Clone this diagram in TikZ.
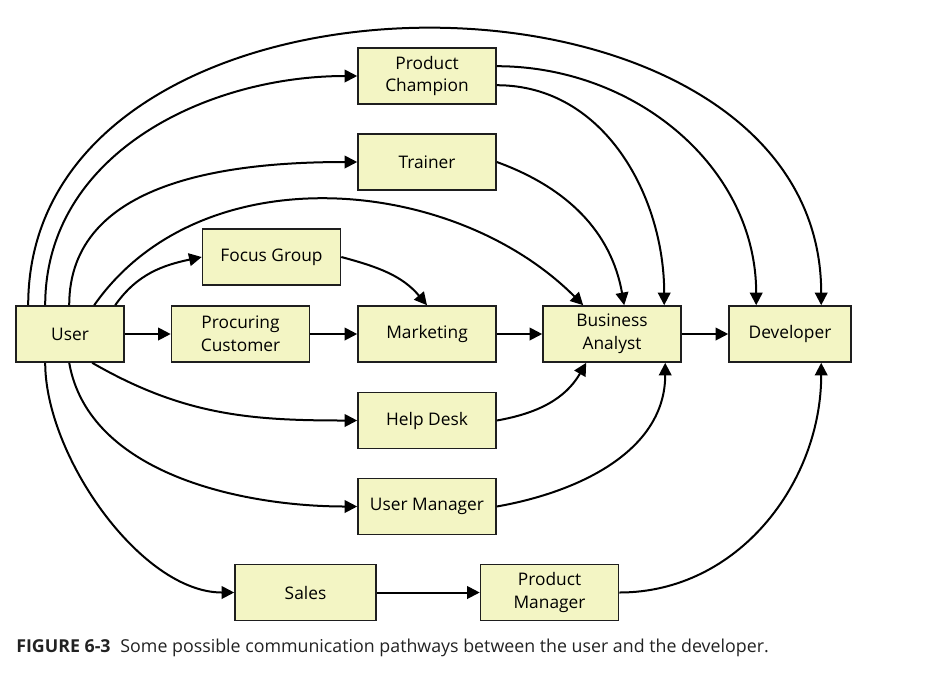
\documentclass[tikz,border=0pt]{standalone}
\usepackage{fontspec}
\setmainfont{Open Sans}
\usetikzlibrary{arrows.meta}
\usetikzlibrary{calc}

\begin{document}
\begin{tikzpicture}[x=0.75pt,y=0.75pt,yscale=-1,xscale=1,
  box/.style={draw={rgb, 255:red, 30; green, 30; blue, 30 }, line width=1.2pt, fill={rgb, 255:red, 243; green, 245; blue, 196 }, fill opacity=1, minimum width=103.5pt, minimum height=42pt, align=center, inner sep=0.75pt, font=\fontsize{13}{17}\selectfont},
  link/.style={line width=1.5pt, -{Triangle[length=9.5pt,width=9.5pt]}}]
%set diagram size 930 x 683
\useasboundingbox (0,0) rectangle (930,683);

%Shape: Rectangle [id:user] 
\draw (70,334) node [box, minimum width=81pt] (user) {User};
%Shape: Rectangle [id:proc] 
\draw (240.5,334) node [box] (proc) {Procuring\\Customer};
%Shape: Rectangle [id:mkt] 
\draw (427,334) node [box] (mkt) {Marketing};
%Shape: Rectangle [id:ba] 
\draw (612,334) node [box] (ba) {Business\\Analyst};
%Shape: Rectangle [id:dev] 
\draw (790,334) node [box, minimum width=91.5pt] (dev) {Developer};
%Shape: Rectangle [id:pc] 
\draw (427,76) node [box] (pc) {Product\\Champion};
%Shape: Rectangle [id:trn] 
\draw (427,162) node [box] (trn) {Trainer};
%Shape: Rectangle [id:fg] 
\draw (271.5,257) node [box] (fg) {Focus Group};
%Shape: Rectangle [id:hd] 
\draw (427,420.5) node [box] (hd) {Help Desk};
%Shape: Rectangle [id:um] 
\draw (427,506.5) node [box] (um) {User Manager};
%Shape: Rectangle [id:sales] 
\draw (305.5,592.5) node [box, minimum width=105.75pt] (sales) {Sales};
%Shape: Rectangle [id:pm] 
\draw (549.5,592.5) node [box] (pm) {Product\\Manager};

%Straight Lines
\draw [link] (user.east) -- (proc.west);
\draw [link] (proc.east) -- (mkt.west);
\draw [link] (mkt.east) -- (ba.west);
\draw [link] (ba.east) -- (dev.west);
\draw [link] (sales.east) -- (pm.west);

%Curve Lines above
\draw [link] ($(user.north west)+(13,0)$) to[out=-90,in=-90,looseness=1.19] ($(dev.north west)+(93,0)$);
\draw [link] ($(user.north west)+(30,0)$) to[out=-90,in=180] (pc.west);
\draw [link] ($(user.north west)+(54,0)$) to[out=-90,in=180] (trn.west);
\draw [link] ($(user.north west)+(79,0)$) to[out=-55,in=-135,looseness=0.97] ($(ba.north west)+(41,0)$);
\draw [link] ($(user.north west)+(100,0)$) to[out=-55,in=168] (fg.west);
\draw [link] (fg.east) to[out=15,in=-130] (mkt.north);
\draw [link] ($(pc.north east)+(0,19)$) to[out=0,in=-90] ($(dev.north west)+(28,0)$);
\draw [link] ($(pc.north east)+(0,38)$) to[out=0,in=-90] ($(ba.north west)+(122,0)$);
\draw [link] (trn.east) to[out=20,in=-100] ($(ba.north west)+(82,0)$);

%Curve Lines below
\draw [link] ($(user.south west)+(77,0)$) to[out=30,in=180] (hd.west);
\draw [link] ($(user.south west)+(54,0)$) to[out=80,in=180,looseness=0.9] (um.west);
\draw [link] ($(user.south west)+(30,0)$) to[out=90,in=180,looseness=0.8] (sales.west);
\draw [link] (hd.east) to[out=-10,in=120] ($(ba.south west)+(44,0)$);
\draw [link] (um.east) to[out=-10,in=90] ($(ba.south west)+(123,0)$);
\draw [link] (pm.east) to[out=0,in=90] ($(dev.south west)+(93,0)$);

% Text Node
\draw (16,648) node [anchor=west][inner sep=0pt, text={rgb, 255:red, 34; green, 34; blue, 34 }, font=\fontsize{13.35}{15}\selectfont] (cap) {\textbf{FIGURE 6-3}\hspace{0.55em}Some possible communication pathways between the user and the developer.};

\end{tikzpicture}
\end{document}
